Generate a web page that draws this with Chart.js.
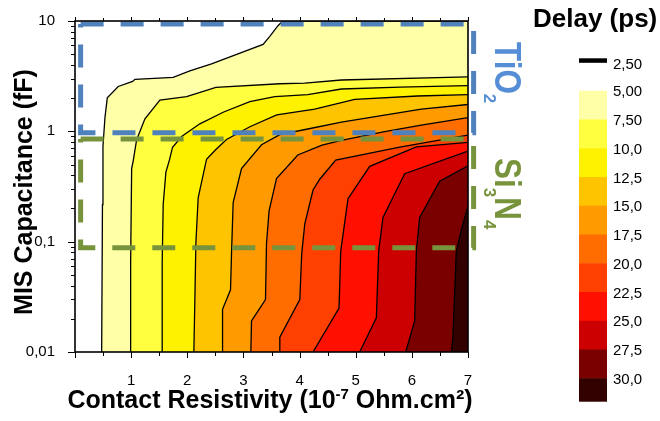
<!DOCTYPE html>
<html>
<head>
<meta charset="utf-8">
<script src="https://cdn.jsdelivr.net/npm/chart.js@4.4.1/dist/chart.umd.min.js"></script>
<style>
  html, body { margin: 0; padding: 0; background: #fff; }
</style>
</head>
<body>
<canvas id="delayMap" width="660" height="421"></canvas>
<script>
// delay levels of the filled contours (ps) and their fill colours
const levelLabels = ['5,00', '7,50', '10,0', '12,5', '15,0', '17,5', '20,0', '22,5', '25,0', '27,5', '30,0'];
const levelColors = ['#ffffa8', '#ffff40', '#fff200', '#ffc400', '#ff9a00', '#ff6c00',
                     '#ff4000', '#ff1000', '#cc0000', '#7a0000', '#330000'];
const lineLevelLabel = '2,50';

// iso-delay boundaries: [contact resistivity (1e-7 Ohm.cm2), MIS capacitance (fF)]
const iso05 = [[0.475, 0.01], [0.489, 0.217], [0.498, 0.73], [0.534, 1.34], [0.575, 2.01], [0.77, 2.55],
               [1.027, 2.83], [1.068, 2.96], [1.749, 3.08], [2.046, 3.53], [2.432, 4.09], [3.35, 6.14],
               [3.47, 7.26], [3.612, 9.02], [3.70, 10], [7, 10]];
const iso075 = [[0.991, 0.01], [0.991, 0.064], [1.009, 0.46], [1.037, 0.54], [1.098, 0.84], [1.246, 1.30],
                [1.512, 1.92], [1.988, 2.06], [2.509, 2.50], [3.648, 2.70], [4.093, 2.73], [4.746, 2.92], [7, 3.11]];
const iso10 = [[1.553, 0.01], [1.553, 0.064], [1.571, 0.217], [1.619, 0.427], [1.678, 0.54], [1.738, 0.718],
               [1.899, 0.897], [2.224, 1.17], [2.639, 1.49], [3.114, 1.86], [3.559, 2.06], [4.146, 2.15],
               [4.746, 2.42], [5.783, 2.52], [7, 2.60]];
const iso125 = [[2.117, 0.01], [2.135, 0.0299], [2.153, 0.0966], [2.194, 0.25], [2.343, 0.559], [2.509, 0.685],
                [2.699, 0.844], [3.114, 1.10], [3.594, 1.41], [4.27, 1.59], [4.982, 1.95], [6.103, 2.09], [7, 2.15]];
const iso15 = [[2.628, 0.01], [2.628, 0.0244], [2.77, 0.0366], [2.788, 0.0789], [2.817, 0.226], [2.966, 0.46],
               [3.322, 0.755], [3.648, 0.933], [4.146, 1.05], [4.746, 1.21], [5.457, 1.39], [6.169, 1.59], [7, 1.75]];
const iso175 = [[3.132, 0.01], [3.144, 0.0191], [3.393, 0.0299], [3.411, 0.0966], [3.457, 0.19], [3.589, 0.373],
                [3.968, 0.61], [4.40, 0.75], [4.746, 0.83], [5.516, 0.992], [6.169, 1.136], [7, 1.331]];
const iso20 = [[3.635, 0.01], [3.648, 0.0136], [4.004, 0.0299], [4.039, 0.0789], [4.093, 0.145], [4.24, 0.294],
               [4.359, 0.368], [4.644, 0.548], [5.783, 0.718], [7, 0.924]];
const iso225 = [[4.24, 0.01], [4.703, 0.025], [4.733, 0.0822], [4.863, 0.245], [5.249, 0.482], [6.08, 0.722], [7, 0.794]];
const iso25 = [[5.071, 0.01], [5.368, 0.0204], [5.409, 0.0822], [5.486, 0.166], [5.872, 0.413], [7, 0.662]];
const iso275 = [[5.89, 0.01], [6.05, 0.0191], [6.08, 0.0822], [6.139, 0.166], [6.495, 0.353], [7, 0.488]];
const iso30 = [[6.703, 0.01], [6.731, 0.0136], [6.792, 0.0822], [6.886, 0.131], [7, 0.21]];
const isoLines = [iso05, iso075, iso10, iso125, iso15, iso175, iso20, iso225, iso25, iso275, iso30];

// capacitance windows of the two insulators
const tio2X = [0.1, 7.1];
const tio2Y = [0.97, 9.4];
const si3n4X = [0.1, 7.1];
const si3n4Y = [0.088, 0.85];

// axis ticks
const yDecades = [0.01, 0.1, 1];
const yTickText = ['0,01', '0,1', '1', '10'];
const xTickStep = 0.5;

const FONT = "'Liberation Sans', Arial, sans-serif";

const yTickValues = [];
yDecades.forEach(d => {
    for (let m = 1; m < 10; m++) yTickValues.push(d * m);
});
yTickValues.push(10);

function isDecade(v) {
    const lg = Math.log10(v);
    return Math.abs(lg - Math.round(lg)) < 1e-9;
}

function boxDataset(xs, ys, color) {
    return {
        data: [
            {x: xs[0], y: ys[1]}, {x: xs[1], y: ys[1]}, {x: xs[1], y: ys[0]},
            {x: xs[0], y: ys[0]}, {x: xs[0], y: ys[1]}
        ],
        borderColor: color,
        borderWidth: 5,
        borderDash: [23, 17],
        borderCapStyle: 'butt',
        borderJoinStyle: 'miter',
        pointRadius: 0,
        fill: false,
        clip: false,
        order: 0
    };
}

const datasets = isoLines.map((pts, i) => ({
    data: pts.map(([x, y]) => ({x, y})),
    borderColor: '#000',
    borderWidth: 1.3,
    backgroundColor: levelColors[i],
    fill: 'start',
    pointRadius: 0,
    tension: 0,
    order: isoLines.length - i + 1
}));
datasets.push(boxDataset(tio2X, tio2Y, '#4f81bd'));
datasets.push(boxDataset(si3n4X, si3n4Y, '#77933c'));

// plot frame and tick marks
const framePlugin = {
    id: 'framePlugin',
    afterDatasetsDraw(chart) {
        const {ctx, chartArea: a, scales: {x, y}} = chart;
        ctx.save();
        ctx.strokeStyle = '#000';
        ctx.lineWidth = 1;
        ctx.beginPath();
        x.ticks.forEach(t => {
            const px = Math.round(x.getPixelForValue(t.value)) + 0.5;
            const major = Number.isInteger(t.value);
            ctx.moveTo(px, a.bottom);
            ctx.lineTo(px, a.bottom + (major ? 6 : 4));
            ctx.moveTo(px, a.top);
            ctx.lineTo(px, a.top - (major ? 4 : 3));
        });
        y.ticks.forEach(t => {
            const py = Math.round(y.getPixelForValue(t.value)) + 0.5;
            ctx.moveTo(a.left, py);
            ctx.lineTo(a.left - (isDecade(t.value) ? 7 : 4), py);
        });
        ctx.stroke();
        ctx.lineWidth = 1.6;
        ctx.strokeRect(a.left, a.top, a.right - a.left, a.bottom - a.top);
        ctx.restore();
    }
};

// draws a rotated label made of normal and subscript runs (reads top to bottom)
function drawVerticalFormula(ctx, runs, x, y, color) {
    ctx.save();
    ctx.translate(x, y);
    ctx.rotate(Math.PI / 2);
    ctx.fillStyle = color;
    ctx.textBaseline = 'alphabetic';
    ctx.textAlign = 'left';
    let pos = 0;
    runs.forEach(([text, sub]) => {
        ctx.save();
        if (sub) {
            ctx.font = 'bold 17px ' + FONT;
            ctx.fillText(text, pos, 11.5);
            pos += ctx.measureText(text).width;
        } else {
            ctx.font = 'bold 37px ' + FONT;
            ctx.scale(0.85, 1);
            ctx.fillText(text, pos / 0.85, 0);
            pos += ctx.measureText(text).width * 0.85;
        }
        ctx.restore();
    });
    ctx.restore();
}

const labelsPlugin = {
    id: 'labelsPlugin',
    afterDraw(chart) {
        const {ctx} = chart;
        ctx.save();
        ctx.fillStyle = '#000';

        // y axis title
        ctx.save();
        ctx.translate(32, 192);
        ctx.rotate(-Math.PI / 2);
        ctx.font = 'bold 25px ' + FONT;
        ctx.textAlign = 'center';
        ctx.textBaseline = 'alphabetic';
        ctx.fillText('MIS Capacitance (fF)', 0, 0);
        ctx.restore();

        // x axis title with superscript exponent
        const p1 = 'Contact Resistivity (10';
        const sup = '-7';
        const p2 = ' Ohm.cm²)';
        ctx.textAlign = 'left';
        ctx.textBaseline = 'alphabetic';
        ctx.font = 'bold 25px ' + FONT;
        const w1 = ctx.measureText(p1).width;
        const w2 = ctx.measureText(p2).width;
        ctx.font = 'bold 15px ' + FONT;
        const ws = ctx.measureText(sup).width;
        let tx = 270 - (w1 + ws + w2) / 2;
        const base = 408;
        ctx.font = 'bold 25px ' + FONT;
        ctx.fillText(p1, tx, base);
        tx += w1;
        ctx.font = 'bold 15px ' + FONT;
        ctx.fillText(sup, tx, base - 9);
        tx += ws;
        ctx.font = 'bold 25px ' + FONT;
        ctx.fillText(p2, tx, base);

        // insulator names
        drawVerticalFormula(ctx, [['TiO', false], ['2', true]], 495, 42, '#558ed5');
        drawVerticalFormula(ctx, [['Si', false], ['3', true], ['N', false], ['4', true]], 495, 158, '#77933c');

        // colour scale
        ctx.font = 'bold 26px ' + FONT;
        ctx.fillStyle = '#000';
        ctx.fillText('Delay (ps)', 533, 27);

        const barX = 579, barW = 28, barTop = 90.7, step = 28.76, barBottom = 401.7;
        ctx.font = '15px ' + FONT;
        ctx.textBaseline = 'middle';
        ctx.fillStyle = '#000';
        ctx.fillRect(barX, 58.3, barW, 4.5);
        ctx.fillText(lineLevelLabel, 613, 64.5);
        levelColors.forEach((c, i) => {
            const top = barTop + i * step;
            const bottom = i === levelColors.length - 1 ? barBottom : top + step;
            ctx.fillStyle = c;
            ctx.fillRect(barX, top, barW, bottom - top + (i < levelColors.length - 1 ? 0.5 : 0));
        });
        ctx.fillStyle = '#000';
        levelLabels.forEach((lab, i) => {
            ctx.fillText(lab, 613, barTop + i * step + 1.5);
        });
        ctx.restore();
    }
};

new Chart(document.getElementById('delayMap').getContext('2d'), {
    type: 'line',
    data: {datasets},
    options: {
        responsive: false,
        animation: false,
        layout: {padding: {top: 11, right: 192, bottom: 0, left: 0}},
        plugins: {
            legend: {display: false},
            tooltip: {enabled: false}
        },
        scales: {
            x: {
                type: 'linear',
                min: 0,
                max: 7,
                grid: {display: false},
                border: {display: false},
                ticks: {
                    stepSize: xTickStep,
                    autoSkip: false,
                    maxRotation: 0,
                    padding: 12,
                    color: '#000',
                    font: {family: FONT, size: 15},
                    callback: v => (v > 0 && Number.isInteger(v)) ? String(v) : ''
                },
                afterFit: s => { s.height = 69; }
            },
            y: {
                type: 'logarithmic',
                min: 0.01,
                max: 10,
                grid: {display: false},
                border: {display: false},
                afterBuildTicks: s => { s.ticks = yTickValues.map(v => ({value: v})); },
                ticks: {
                    autoSkip: false,
                    padding: 12,
                    color: '#000',
                    font: {family: FONT, size: 15},
                    callback: v => isDecade(v) ? yTickText[Math.round(Math.log10(v)) + 2] : ''
                },
                afterFit: s => { s.width = 75; }
            }
        }
    },
    plugins: [framePlugin, labelsPlugin]
});
</script>
</body>
</html>
